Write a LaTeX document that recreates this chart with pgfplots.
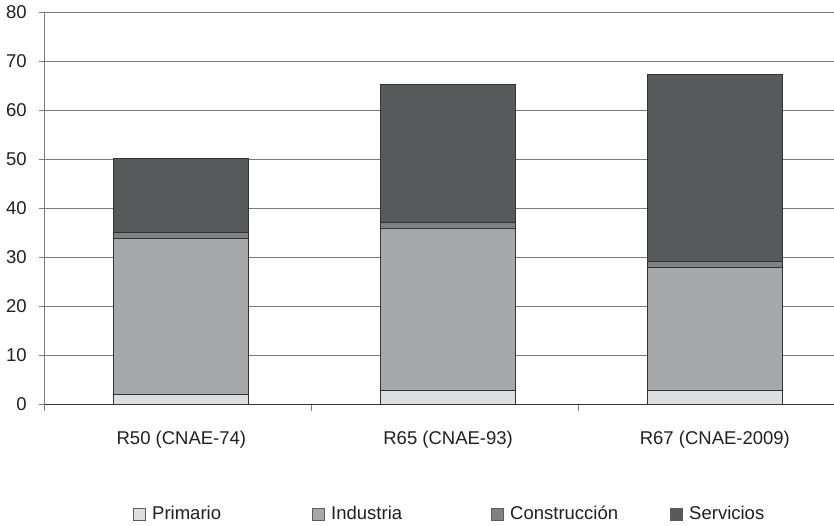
\documentclass[border=0pt]{standalone}
\usepackage{fontspec}
\setmainfont{Liberation Sans}
\usepackage{pgfplots}
\pgfplotsset{compat=1.18}
\definecolor{cPri}{HTML}{DCDDDF}
\definecolor{cInd}{HTML}{A7A8AB}
\definecolor{cCon}{HTML}{808184}
\definecolor{cSer}{HTML}{58595B}
\definecolor{gridc}{HTML}{7A7A7A}
\definecolor{edgec}{HTML}{333333}
\definecolor{txtc}{HTML}{231F20}
\begin{document}
\fontsize{18.5pt}{22pt}\selectfont
\begin{tikzpicture}
\begin{axis}[
  scale only axis, width=800.25pt, height=392.5pt,
  xmin=-0.5, xmax=2.5, ymin=0, ymax=80,
  ybar stacked, bar width=0.506, bar shift=3pt,
  axis x line*=bottom, axis y line*=left,
  x axis line style={draw=edgec, line width=1.4pt, -},
  y axis line style={draw=gridc, line width=1pt, -},
  ytick={0,10,...,80},
  ymajorgrids, grid style={draw=gridc, line width=1pt},
  xtick={-0.5,0.5,1.5,2.5},
  x tick label as interval,
  xticklabels={R50 (CNAE-74), R65 (CNAE-93), R67 (CNAE-2009)},
  tick align=outside, major tick length=6pt,
  tick style={draw=gridc, line width=1pt},
  /pgf/number format/assume math mode=true,
  tick label style={font=\fontsize{18.5pt}{22pt}\selectfont, text=txtc},
  yticklabel style={xshift=-6pt},
  xticklabel style={yshift=-14pt, xshift=3pt},
  every axis plot/.append style={draw=edgec, line width=1pt},
  legend image code/.code={\draw[#1, line width=1pt, draw=edgec!80] (0pt,-6pt) rectangle (12pt,6pt); \path (16pt,0pt);},
  legend columns=4,
  legend style={at={(0.11,-0.28)}, anchor=west, draw=none, inner sep=0pt,
    font=\fontsize{18.5pt}{22pt}\selectfont, text=txtc,
    /tikz/every even column/.append style={column sep=12pt, text width=146pt}},
  legend cell align=left,
]
\addplot[fill=cPri] coordinates {(0,2.0) (1,2.8) (2,2.8)};
\addplot[fill=cInd] coordinates {(0,31.85) (1,33.1) (2,25.1)};
\addplot[fill=cCon] coordinates {(0,1.2) (1,1.2) (2,1.2)};
\addplot[fill=cSer] coordinates {(0,15.0) (1,28.1) (2,38.1)};
\legend{Primario, Industria, Construcción, Servicios}
\end{axis}
\pgfresetboundingbox
\path (-45pt,-120.5pt) rectangle (789pt,404.5pt);
\end{tikzpicture}
\end{document}
